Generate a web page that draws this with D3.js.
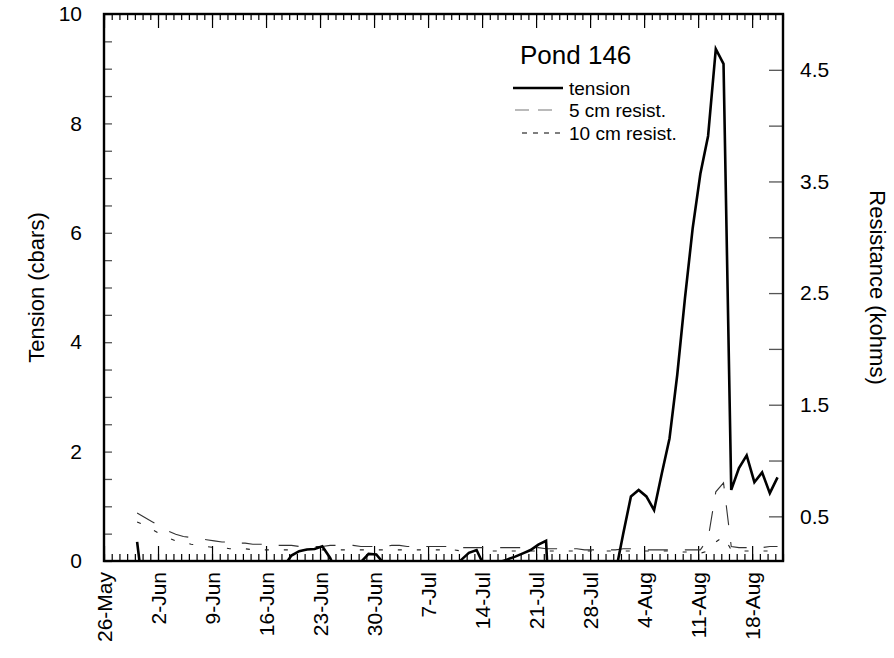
<!DOCTYPE html>
<html><head><meta charset="utf-8">
<script src="https://cdn.jsdelivr.net/npm/d3@7"></script>
<style>
body{margin:0;background:#fff}
text{font-family:Arial,"Liberation Sans",Helvetica,sans-serif;fill:#000}
</style>
</head><body>
<svg id="chart" width="894" height="658"></svg>
<script>
// ---------------- data ----------------
const year = 2000;
const axisStart = "26-May";
const axisEnd = "22-Aug";
const firstReading = "30-May";      // daily readings, about 07:00
const readingHour = 7;
const weekLabels = ["26-May","2-Jun","9-Jun","16-Jun","23-Jun","30-Jun","7-Jul","14-Jul","21-Jul","28-Jul","4-Aug","11-Aug","18-Aug"];
const tensionTickValues = [0,2,4,6,8,10];
const resistTickValues = [0.5,1.5,2.5,3.5,4.5];

// Tension (cbars), daily from 30-May (negative values fall below the axis and are clipped)
const tension = [
  0.35,-0.8,-0.8,-0.8,-0.8,-0.8,-0.8,-0.8,-0.8,-0.8,
  -0.8,-0.8,-0.8,-0.8,-0.8,-0.8,-0.8,-0.8,-0.8,-0.1,
  0.1,0.18,0.21,0.22,0.27,0.06,-0.25,-0.5,-0.3,-0.02,
  0.13,0.12,-0.05,-0.5,-0.5,-0.5,-0.5,-0.5,-0.5,-0.5,
  -0.5,-0.3,0.02,0.15,0.2,-0.1,-0.3,-0.02,0.03,0.08,
  0.14,0.2,0.3,0.37,-2.5,-1,-1,-1,-1,-1,
  -1,-1,-0.22,0.5,1.18,1.3,1.18,0.93,1.6,2.24,
  3.4,4.8,6.08,7.08,7.77,9.36,9.09,1.3,1.7,1.93,
  1.44,1.62,1.24,1.53
];
// 5 cm resistance (kohms)
const resist5 = [
  0.53,0.49,0.45,0.41,0.37,0.34,0.32,0.31,0.30,0.29,
  0.28,0.27,0.27,0.26,0.26,0.25,0.25,0.25,0.24,0.24,
  0.24,0.23,0.23,0.23,0.23,0.24,0.24,0.24,0.24,0.23,
  0.23,0.23,0.23,0.24,0.24,0.23,0.23,0.23,0.23,0.23,
  0.23,0.22,0.22,0.22,0.22,0.22,0.22,0.22,0.22,0.22,
  0.22,0.22,0.22,0.21,0.21,0.21,0.21,0.21,0.20,0.20,
  0.20,0.20,0.20,0.21,0.21,0.21,0.20,0.20,0.20,0.20,
  0.20,0.20,0.20,0.20,0.30,0.72,0.80,0.23,0.22,0.22,
  0.22,0.22,0.23,0.23
];
// 10 cm resistance (kohms)
const resist10 = [
  0.45,0.42,0.38,0.34,0.31,0.28,0.27,0.25,0.24,0.23,
  0.22,0.22,0.21,0.21,0.21,0.20,0.20,0.20,0.20,0.20,
  0.20,0.20,0.20,0.20,0.20,0.20,0.20,0.20,0.20,0.20,
  0.20,0.20,0.20,0.20,0.20,0.20,0.20,0.20,0.20,0.20,
  0.20,0.20,0.19,0.19,0.19,0.19,0.19,0.19,0.19,0.19,
  0.19,0.19,0.19,0.19,0.19,0.19,0.19,0.19,0.19,0.19,
  0.19,0.19,0.19,0.19,0.19,0.19,0.19,0.19,0.19,0.19,
  0.18,0.18,0.18,0.17,0.19,0.27,0.32,0.20,0.19,0.19,
  0.19,0.19,0.19,0.19
];
const seriesNames = ["tension","5 cm resist.","10 cm resist."];
const title = "Pond 146";

// ---------------- layout ----------------
const L = 104, R = 783, T = 14, B = 561;
const parse = s => d3.utcParse("%d-%b-%Y")(s + "-" + year);
const x = d3.scaleUtc().domain([parse(axisStart), parse(axisEnd)]).range([L, R]);
const yL = d3.scaleLinear().domain([0, 10]).range([B, T]);
const yR = d3.scaleLinear().domain([0.1, 5]).range([B, T]);

const first = parse(firstReading);
const readingDate = i => d3.utcHour.offset(d3.utcDay.offset(first, i), readingHour);

const svg = d3.select("#chart");
svg.append("defs").append("clipPath").attr("id","clip")
  .append("rect").attr("x", L).attr("y", T).attr("width", R - L).attr("height", B - T);

const allDays = d3.utcDay.range(parse(axisStart), d3.utcDay.offset(parse(axisEnd), 1));
const weekDates = weekLabels.map(parse);
const fmt = d3.utcFormat("%-d-%b");

// bottom axis minor + major
svg.append("g").attr("transform", `translate(0,${B})`)
  .call(d3.axisBottom(x).tickValues(allDays).tickSize(-7).tickFormat(""))
  .call(g => g.select(".domain").remove())
  .selectAll("line").attr("stroke","#000").attr("stroke-width",1.2);
const bx = svg.append("g").attr("transform", `translate(0,${B})`)
  .call(d3.axisBottom(x).tickValues(weekDates).tickSize(-15).tickFormat(fmt))
  .call(g => g.select(".domain").remove());
bx.selectAll("line").attr("stroke","#000").attr("stroke-width",1.2);
bx.selectAll("text").attr("font-size",21).attr("transform","rotate(-90)")
  .attr("text-anchor","end").attr("x",-11).attr("y",0).attr("dy","0.36em");

// top axis
svg.append("g").attr("transform", `translate(0,${T})`)
  .call(d3.axisTop(x).tickValues(allDays).tickSize(-6).tickFormat(""))
  .call(g => g.select(".domain").remove())
  .selectAll("line").attr("stroke","#000").attr("stroke-width",1.2);
svg.append("g").attr("transform", `translate(0,${T})`)
  .call(d3.axisTop(x).tickValues(weekDates).tickSize(-14).tickFormat(""))
  .call(g => g.select(".domain").remove())
  .selectAll("line").attr("stroke","#000").attr("stroke-width",1.2);

// left axis
const ly = svg.append("g").attr("transform", `translate(${L},0)`)
  .call(d3.axisLeft(yL).tickValues(d3.range(0, 10.001, 0.5)).tickSize(-8).tickPadding(22)
    .tickFormat(d => tensionTickValues.includes(d) ? d : ""))
  .call(g => g.select(".domain").remove());
ly.selectAll("line").attr("stroke","#555").attr("stroke-width",1.3);
ly.selectAll("text").attr("font-size",21);

// right axis
const ry = svg.append("g").attr("transform", `translate(${R},0)`)
  .call(d3.axisRight(yR).tickValues(d3.range(0.5, 4.501, 0.5)).tickSize(-14).tickPadding(17)
    .tickFormat(d => resistTickValues.some(v => Math.abs(v - d) < 1e-9) ? d3.format(".1f")(d) : ""))
  .call(g => g.select(".domain").remove());
ry.selectAll("line").attr("stroke","#555").attr("stroke-width",1.3);
ry.selectAll("text").attr("font-size",21);

// frame
svg.append("rect").attr("x", L).attr("y", T).attr("width", R - L).attr("height", B - T)
  .attr("fill","none").attr("stroke","#000").attr("stroke-width",2.4);

// axis titles
svg.append("text").attr("transform",`translate(44,${(T+B)/2}) rotate(-90)`)
  .attr("text-anchor","middle").attr("font-size",22).text("Tension (cbars)");
svg.append("text").attr("transform",`translate(870,${(T+B)/2}) rotate(90)`)
  .attr("text-anchor","middle").attr("font-size",22).text("Resistance (kohms)");

// lines
const plot = svg.append("g").attr("clip-path","url(#clip)");
const lineL = d3.line().x((d,i) => x(readingDate(i))).y(d => yL(d));
const lineR = d3.line().x((d,i) => x(readingDate(i))).y(d => yR(d));
plot.append("path").datum(resist5).attr("d", lineR).attr("fill","none")
  .attr("stroke","#333").attr("stroke-width",1.1).attr("stroke-dasharray","20,17");
plot.append("path").datum(resist10).attr("d", lineR).attr("fill","none")
  .attr("stroke","#222").attr("stroke-width",1.1).attr("stroke-dasharray","4,15");
plot.append("path").datum(tension).attr("d", lineL).attr("fill","none")
  .attr("stroke","#000").attr("stroke-width",2.6).attr("stroke-linejoin","miter");

// legend
const lg = svg.append("g");
lg.append("text").attr("x",520).attr("y",64).attr("font-size",26).text(title);
const rows = [
  {y:88, x1:513, x2:563, w:2.6, dash:null, col:"#000"},
  {y:110, x1:515, x2:558, w:1.1, dash:"14,9", col:"#777"},
  {y:133, x1:522, x2:562, w:1.1, dash:"5,6", col:"#000"}
];
rows.forEach((r,i) => {
  lg.append("line").attr("x1",r.x1).attr("x2",r.x2).attr("y1",r.y).attr("y2",r.y)
    .attr("stroke",r.col).attr("stroke-width",r.w).attr("stroke-dasharray",r.dash);
  lg.append("text").attr("x",569).attr("y",r.y+7).attr("font-size",19).text(seriesNames[i]);
});
</script>
</body></html>
